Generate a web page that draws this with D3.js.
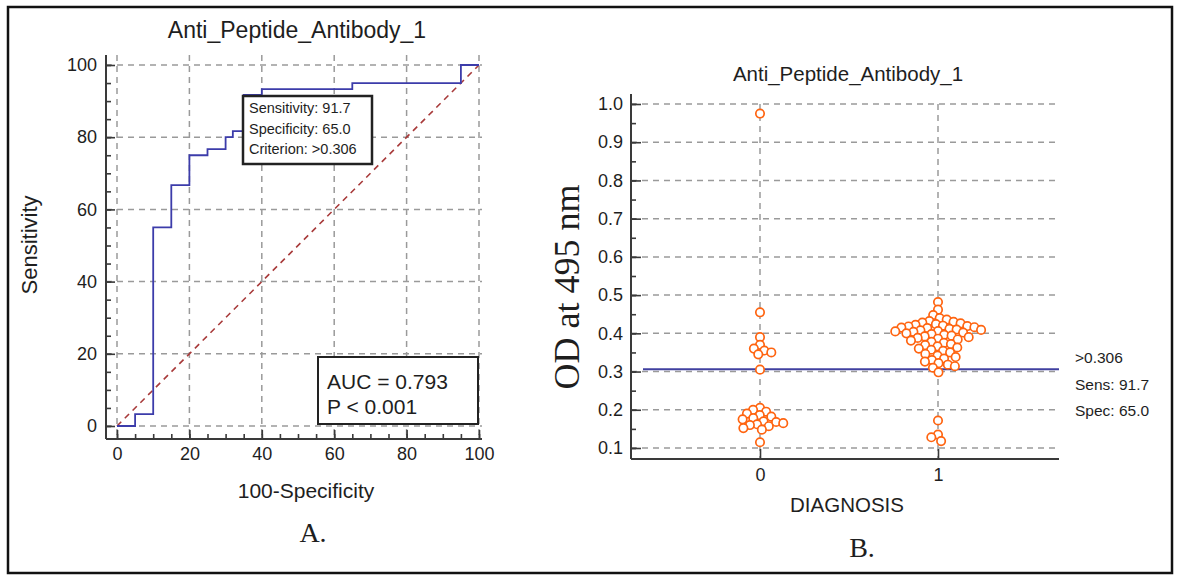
<!DOCTYPE html>
<html><head><meta charset="utf-8">
<script src="https://cdn.jsdelivr.net/npm/d3@7"></script>
<style>
body{margin:0;background:#fff;}
svg{display:block;}
text{fill:#1e1e1e;}
</style>
</head><body>
<svg id="c" width="1181" height="578"></svg>
<script>
// ---------------- data ----------------
const chartTitle = "Anti_Peptide_Antibody_1";
// ROC curve vertices (step after): 100-Specificity, Sensitivity
const rocFPR  = [0, 5, 10, 15, 20, 25, 30, 32, 35, 40, 65, 95, 100];
const rocSens = [0, 3.3, 55, 66.7, 75, 76.7, 80, 81.7, 91.7, 93.3, 95, 100, 100];
const rocTicks = [0, 20, 40, 60, 80, 100];
const criterionLines = ["Sensitivity: 91.7", "Specificity: 65.0", "Criterion: >0.306"];
const aucLines = ["AUC = 0.793", "P < 0.001"];

const diagnosisCategories = [0, 1];
const group0Values = [0.975, 0.455, 0.39, 0.37, 0.36, 0.355, 0.345, 0.35, 0.305,
  0.205, 0.2, 0.195, 0.19, 0.186, 0.182, 0.178, 0.175, 0.17, 0.168, 0.165, 0.162, 0.16, 0.157, 0.152, 0.148, 0.115];
const group1Values = [0.482, 0.462, 0.448,
  0.44, 0.436, 0.432, 0.43, 0.428, 0.426, 0.424, 0.422, 0.42, 0.419, 0.418, 0.416, 0.415, 0.414, 0.412,
  0.41, 0.409, 0.408, 0.406, 0.405, 0.404, 0.402, 0.4, 0.398, 0.396, 0.394, 0.392, 0.39, 0.388, 0.386,
  0.384, 0.381, 0.378, 0.375, 0.372, 0.369, 0.366, 0.363, 0.36, 0.357, 0.354, 0.35, 0.346, 0.342, 0.338,
  0.334, 0.33, 0.326, 0.322, 0.318, 0.314, 0.31,
  0.298, 0.172, 0.135, 0.128, 0.118];
const odTicks = [0.1, 0.2, 0.3, 0.4, 0.5, 0.6, 0.7, 0.8, 0.9, 1.0];
const cutoff = 0.306;
const cutoffLines = [">0.306", "Sens: 91.7", "Spec: 65.0"];
const panelLabels = ["A.", "B."];

// ---------------- drawing ----------------
const SANS = '"Liberation Sans", Arial, sans-serif';
const SERIF = '"Liberation Serif", "Times New Roman", serif';
const svg = d3.select("#c");
const gridColor = "#9a9a9a", axisColor = "#3a3a3a";
function txt(g) { return g.append("text").style("font-family", SANS); }

// outer frame
svg.append("rect").attr("x", 8).attr("y", 7).attr("width", 1164).attr("height", 566)
  .attr("fill", "none").attr("stroke", "#111").attr("stroke-width", 2.5);

// ===== Panel A: ROC =====
const xA = d3.scaleLinear().domain([0, 100]).range([117, 479]);
const yA = d3.scaleLinear().domain([0, 100]).range([426, 65]);
const A = svg.append("g");
const aLeft = 106, aBottom = 439, aTop = 55, aRight = 482;

A.selectAll(".vg").data(rocTicks).join("line")
  .attr("x1", d => xA(d)).attr("x2", d => xA(d)).attr("y1", aTop).attr("y2", aBottom)
  .attr("stroke", gridColor).attr("stroke-width", 1.5).attr("stroke-dasharray", "6,5");
A.selectAll(".hg").data(rocTicks).join("line")
  .attr("y1", d => yA(d)).attr("y2", d => yA(d)).attr("x1", aLeft).attr("x2", aRight)
  .attr("stroke", gridColor).attr("stroke-width", 1.5).attr("stroke-dasharray", "6,5");

A.append("line").attr("x1", xA(0)).attr("y1", yA(0)).attr("x2", xA(100)).attr("y2", yA(100))
  .attr("stroke", "#a83a3a").attr("stroke-width", 1.6).attr("stroke-dasharray", "6,5");

const rocPts = rocFPR.map((f, i) => [f, rocSens[i]]);
A.append("path").datum(rocPts)
  .attr("d", d3.line().x(d => xA(d[0])).y(d => yA(d[1])).curve(d3.curveStepAfter))
  .attr("fill", "none").attr("stroke", "#3c3caa").attr("stroke-width", 1.8);

A.append("line").attr("x1", aLeft).attr("x2", aLeft).attr("y1", aTop).attr("y2", aBottom)
  .attr("stroke", axisColor).attr("stroke-width", 2);
A.append("line").attr("x1", aLeft).attr("x2", aRight).attr("y1", aBottom).attr("y2", aBottom)
  .attr("stroke", axisColor).attr("stroke-width", 2);

const minorA = d3.range(0, 101, 5);
function tickAxis(g, axis) { g.call(axis); g.select(".domain").remove(); g.selectAll("line").attr("stroke", axisColor).attr("stroke-width", 1.6); }
A.append("g").attr("transform", `translate(${aLeft},0)`).call(g => tickAxis(g, d3.axisRight(yA).tickValues(minorA).tickSize(5).tickFormat("")));
A.append("g").attr("transform", `translate(${aLeft},0)`).call(g => tickAxis(g, d3.axisRight(yA).tickValues(rocTicks).tickSize(9).tickFormat("")));
A.append("g").attr("transform", `translate(0,${aBottom})`).call(g => tickAxis(g, d3.axisTop(xA).tickValues(minorA).tickSize(5).tickFormat("")));
A.append("g").attr("transform", `translate(0,${aBottom})`).call(g => tickAxis(g, d3.axisTop(xA).tickValues(rocTicks).tickSize(9).tickFormat("")));

function styleLabels(g, size) {
  g.select(".domain").remove();
  g.selectAll("text").attr("font-size", size).style("font-family", SANS).attr("fill", "#1e1e1e");
}
A.append("g").attr("transform", `translate(${aLeft},0)`)
  .call(d3.axisLeft(yA).tickValues(rocTicks).tickSize(0).tickPadding(9)).call(g => styleLabels(g, 18));
A.append("g").attr("transform", `translate(0,${aBottom})`)
  .call(d3.axisBottom(xA).tickValues(rocTicks).tickSize(0).tickPadding(8)).call(g => styleLabels(g, 18));

txt(A).attr("x", 297).attr("y", 38).attr("text-anchor", "middle").attr("font-size", 23).text(chartTitle);
txt(A).attr("x", 306).attr("y", 498).attr("text-anchor", "middle").attr("font-size", 21).text("100-Specificity");
txt(A).attr("transform", "translate(37,245) rotate(-90)").attr("text-anchor", "middle").attr("font-size", 22).text("Sensitivity");

A.append("rect").attr("x", 243).attr("y", 96).attr("width", 129).attr("height", 68)
  .attr("fill", "#fff").attr("stroke", "#222").attr("stroke-width", 2.5);
A.selectAll(".crit").data(criterionLines).join("text").style("font-family", SANS)
  .attr("x", 249).attr("y", (d, i) => 113 + i * 20.5).attr("font-size", 14.5).text(d => d);

A.append("rect").attr("x", 318).attr("y", 357).attr("width", 160).attr("height", 67)
  .attr("fill", "#fff").attr("stroke", "#222").attr("stroke-width", 2);
A.selectAll(".auc").data(aucLines).join("text").style("font-family", SANS)
  .attr("x", 327).attr("y", (d, i) => 389 + i * 25).attr("font-size", 21).text(d => d);

A.append("text").style("font-family", SERIF).attr("x", 313).attr("y", 542).attr("text-anchor", "middle")
  .attr("font-size", 28).text(panelLabels[0]);

// ===== Panel B: dot plot =====
const xB = d3.scaleLinear().domain([0, 1]).range([760, 938]);
const yB = d3.scaleLinear().domain([0.1, 1.0]).range([448, 104]);
const B = svg.append("g");
const bLeft = 631, bBottom = 459, bTop = 94, bRight = 1059;

B.selectAll(".hg").data(odTicks).join("line")
  .attr("y1", d => yB(d)).attr("y2", d => yB(d)).attr("x1", bLeft).attr("x2", bRight)
  .attr("stroke", gridColor).attr("stroke-width", 1.5).attr("stroke-dasharray", "6,5");
B.selectAll(".vg").data(diagnosisCategories).join("line")
  .attr("x1", d => xB(d)).attr("x2", d => xB(d)).attr("y1", yB(1.0)).attr("y2", bBottom)
  .attr("stroke", gridColor).attr("stroke-width", 1.5).attr("stroke-dasharray", "6,5");

B.append("line").attr("x1", 643).attr("x2", bRight).attr("y1", yB(cutoff)).attr("y2", yB(cutoff))
  .attr("stroke", "#4040a0").attr("stroke-width", 2);

B.append("line").attr("x1", bLeft).attr("x2", bLeft).attr("y1", bTop).attr("y2", bBottom)
  .attr("stroke", axisColor).attr("stroke-width", 2);
B.append("line").attr("x1", bLeft).attr("x2", bRight).attr("y1", bBottom).attr("y2", bBottom)
  .attr("stroke", axisColor).attr("stroke-width", 2);
const minorB = d3.range(0.1, 1.001, 0.05);
B.append("g").attr("transform", `translate(${bLeft},0)`).call(g => tickAxis(g, d3.axisRight(yB).tickValues(minorB).tickSize(5).tickFormat("")));
B.append("g").attr("transform", `translate(${bLeft},0)`).call(g => tickAxis(g, d3.axisRight(yB).tickValues(odTicks).tickSize(10).tickFormat("")));
B.append("g").attr("transform", `translate(0,${bBottom})`).call(g => tickAxis(g, d3.axisTop(xB).tickValues(diagnosisCategories).tickSize(10).tickFormat("")));

B.append("g").attr("transform", `translate(${bLeft},0)`)
  .call(d3.axisLeft(yB).tickValues(odTicks).tickSize(0).tickPadding(8).tickFormat(d3.format(".1f"))).call(g => styleLabels(g, 18));
B.append("g").attr("transform", `translate(0,${bBottom})`)
  .call(d3.axisBottom(xB).tickValues(diagnosisCategories).tickSize(0).tickPadding(9).tickFormat(d3.format("d"))).call(g => styleLabels(g, 18));

txt(B).attr("x", 848).attr("y", 81).attr("text-anchor", "middle").attr("font-size", 20.5).text(chartTitle);
txt(B).attr("x", 847).attr("y", 512).attr("text-anchor", "middle").attr("font-size", 20.5).text("DIAGNOSIS");
B.append("text").style("font-family", SERIF).attr("transform", "translate(579,287) rotate(-90)").attr("text-anchor", "middle")
  .attr("font-size", 36).text("OD at 495 nm");

B.selectAll(".cut").data(cutoffLines).join("text").style("font-family", SANS)
  .attr("x", 1075).attr("y", (d, i) => 363 + i * 26.5).attr("font-size", 15.5).text(d => d);

B.append("text").style("font-family", SERIF).attr("x", 862).attr("y", 557).attr("text-anchor", "middle")
  .attr("font-size", 28).text(panelLabels[1]);

function swarm(values, cx, d) {
  const pts = values.map(v => ({ v, y: yB(v) })).sort((a, b) => a.y - b.y);
  const placed = [];
  for (const p of pts) {
    const near = placed.filter(q => Math.abs(q.y - p.y) < d);
    const cands = [0];
    near.forEach(q => { const dx = Math.sqrt(d * d - (q.y - p.y) ** 2); cands.push(q.x - dx, q.x + dx); });
    cands.sort((a, b) => Math.abs(a) - Math.abs(b));
    p.x = cands.find(c => near.every(q => (q.x - c) ** 2 + (q.y - p.y) ** 2 >= d * d - 1e-6));
    placed.push(p);
  }
  return placed.map(p => ({ x: cx + p.x, y: p.y }));
}
const dots = swarm(group0Values, xB(0), 7.2).concat(swarm(group1Values, xB(1), 7.2));
B.selectAll(".dot").data(dots).join("circle")
  .attr("cx", d => d.x).attr("cy", d => d.y).attr("r", 4.2)
  .attr("fill", "#fff").attr("stroke", "#ff6410").attr("stroke-width", 1.7);
</script>
</body></html>
